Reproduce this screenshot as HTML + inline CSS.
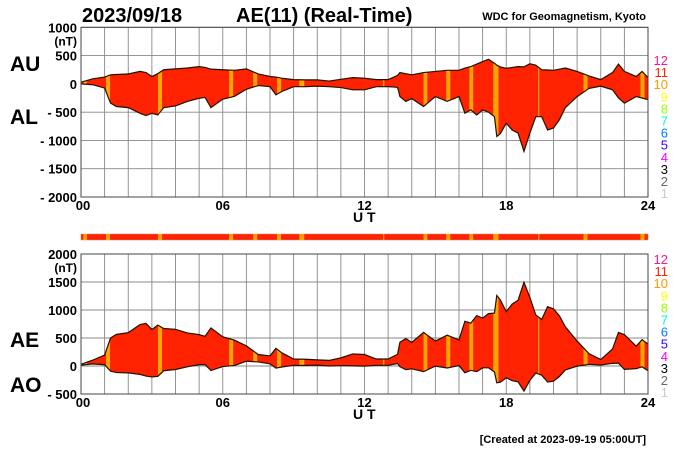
<!DOCTYPE html>
<html><head><meta charset="utf-8"><style>
body{margin:0;background:#fff;}
svg{display:block;font-family:"Liberation Sans",sans-serif;}
</style></head><body>
<svg id="c" width="700" height="450" viewBox="0 0 700 450" xmlns="http://www.w3.org/2000/svg">
<text x="82" y="22" font-size="20" font-weight="bold">2023/09/18</text>
<text x="236" y="22" font-size="20" font-weight="bold">AE(11) (Real-Time)</text>
<text x="646" y="20" font-size="11" font-weight="bold" text-anchor="end">WDC for Geomagnetism, Kyoto</text>
<text x="10" y="71" font-size="21" font-weight="bold">AU</text>
<text x="10" y="124" font-size="21" font-weight="bold">AL</text>
<text x="10" y="347" font-size="21" font-weight="bold">AE</text>
<text x="10" y="392" font-size="21" font-weight="bold">AO</text>
<text x="646" y="443" font-size="11" font-weight="bold" text-anchor="end">[Created at 2023-09-19 05:00UT]</text>
<g id="top"></g>
<g id="strip"></g>
<g id="bot"></g>
</svg>
<script>
const hours=[0,0.5,1,1.25,1.5,2,2.5,2.75,3,3.25,3.5,4,4.5,5,5.25,5.5,6,6.5,7,7.5,8,8.25,8.5,9,9.5,10,10.5,11,11.5,12,12.5,13,13.4,13.5,13.75,14,14.5,15,15.5,16,16.25,16.5,16.75,17,17.25,17.5,17.6,17.75,18,18.25,18.5,18.75,19,19.25,19.5,19.75,20,20.25,20.5,21,21.5,22,22.5,22.75,23,23.5,23.75,24];
const au=[30,90,120,160,165,175,220,200,130,180,250,265,280,305,290,260,250,240,265,175,130,120,100,75,70,70,50,80,110,100,75,75,150,200,180,160,200,220,240,240,280,305,350,395,435,365,330,300,275,290,305,300,355,330,250,245,240,260,280,220,140,75,200,350,220,130,220,110];
const al=[0,-15,-75,-340,-400,-420,-520,-560,-520,-550,-420,-390,-310,-255,-240,-420,-270,-220,-95,-30,-50,-195,-135,-50,-50,-40,-50,-65,-105,-105,-50,-50,-60,-225,-310,-260,-400,-225,-310,-225,-520,-460,-550,-460,-500,-580,-930,-880,-695,-815,-870,-1195,-870,-580,-580,-815,-780,-635,-420,-225,-80,-40,-105,-250,-340,-225,-250,-280];
const orangeBands=[[0.1,0.25],[1.06,1.23],[3.26,3.43],[6.27,6.44],[7.29,7.46],[8.3,8.47],[9.24,9.45],[12.78,12.84],[14.5,14.66],[15.46,15.63],[16.44,16.6],[17.45,17.67],[19.35,19.4],[21.27,21.44],[23.68,23.85]];
const topTicks=[1000,500,0,-500,-1000,-1500,-2000];
const topTickLabels=["1000","500","0","- 500","- 1000","- 1500","- 2000"];
const botTicks=[2000,1500,1000,500,0,-500];
const botTickLabels=["2000","1500","1000","500","0","- 500"];
const hourLabels=["00","06","12","18","24"];
const kpLabels=["12","11","10","9","8","7","6","5","4","3","2","1"];
const kpColors=["#ff1493","#ff2200","#ff9900","#ffff00","#99ff00","#00ffcc","#0080ff","#3300ff","#ff00ff","#000000","#666666","#cccccc"];

const NS="http://www.w3.org/2000/svg";
const X0=81,X1=648;
const xs=h=>X0+(X1-X0)*h/24;
function mk(tag,attrs,parent){const e=document.createElementNS(NS,tag);for(const k in attrs)e.setAttribute(k,attrs[k]);parent.appendChild(e);return e;}
const ae=au.map((v,i)=>v-al[i]);
const ao=au.map((v,i)=>(v+al[i])/2);

function panel(g,id,yTop,yBot,vmax,vmin,ticks,labels,upper,lower,kpTop){
  const ys=v=>yTop+(vmax-v)/(vmax-vmin)*(yBot-yTop);
  const bg=mk('rect',{x:X0,y:yTop,width:X1-X0,height:yBot-yTop,fill:'#fff'},g);
  
  
  for(let h=0;h<=24;h++){const l=mk('line',{x1:xs(h),x2:xs(h),y1:yTop,y2:yBot,stroke:'#888','stroke-width':0.9},g);
    
    }
  ticks.forEach((t,i)=>{const l=mk('line',{x1:X0,x2:X1,y1:ys(t),y2:ys(t),stroke:'#888','stroke-width':0.9},g);
    
    
    const tx=mk('text',{x:X0-4,y:ys(t)+5,'font-size':13,'font-weight':'bold','text-anchor':'end'},g);
    tx.textContent=labels[i];
    
    });
  const nt=mk('text',{x:X0-4,y:ys(ticks[0])+18,'font-size':12,'font-weight':'bold','text-anchor':'end'},g);
  nt.textContent='(nT)';
  
  
  let d='M'+hours.map((h,i)=>xs(h)+','+ys(upper[i])).join('L');
  for(let i=hours.length-1;i>=0;i--)d+='L'+xs(hours[i])+','+ys(lower[i]);
  d+='Z';
  const cp=mk('clipPath',{id:'clip'+id},g);mk('path',{d:d},cp);
  const area=mk('path',{d:d,fill:'#ff2200',stroke:'none'},g);
  
  
  orangeBands.forEach(b=>{const r=mk('rect',{x:xs(b[0]),y:yTop,width:xs(b[1])-xs(b[0]),height:yBot-yTop,fill:'#ffa500','clip-path':'url(#clip'+id+')'},g);
    
    });
  const lu=mk('path',{d:'M'+hours.map((h,i)=>xs(h)+','+ys(upper[i])).join('L'),fill:'none',stroke:'#221100','stroke-width':1.2},g);
  
  
  const ll=mk('path',{d:'M'+hours.map((h,i)=>xs(h)+','+ys(lower[i])).join('L'),fill:'none',stroke:'#221100','stroke-width':1.2},g);
  
  
  const fr=mk('rect',{x:X0,y:yTop,width:X1-X0,height:yBot-yTop,fill:'none',stroke:'#444','stroke-width':1},g);
  
  
  hourLabels.forEach((s,i)=>{const tx=mk('text',{x:xs(i*6)+(i==0?2:0),y:yBot+13,'font-size':13,'font-weight':'bold','text-anchor':'middle'},g);
    tx.textContent=s;
    
    });
  const ut=mk('text',{x:353,y:yBot+25,'font-size':14,'font-weight':'bold'},g);
  ut.textContent='U T';
  
  
  kpLabels.forEach((s,i)=>{const tx=mk('text',{x:668,y:kpTop+i*12.1+5,'font-size':13,'text-anchor':'end',fill:kpColors[i]},g);
    tx.textContent=s;
    
    });
}
panel(document.getElementById('top'),'t',27.3,197,1000,-2000,topTicks,topTickLabels,au,al,60);
panel(document.getElementById('bot'),'b',254,394,2000,-500,botTicks,botTickLabels,ae,ao,259);
const sg=document.getElementById('strip');
const sr=mk('rect',{x:X0,y:234,width:X1-X0,height:6,fill:'#ff2200',stroke:'#cc8866','stroke-width':0.5},sg);


orangeBands.forEach(b=>{const r=mk('rect',{x:xs(b[0]),y:234,width:xs(b[1])-xs(b[0]),height:6,fill:'#ffa500'},sg);
  
  });
</script>
</body></html>
